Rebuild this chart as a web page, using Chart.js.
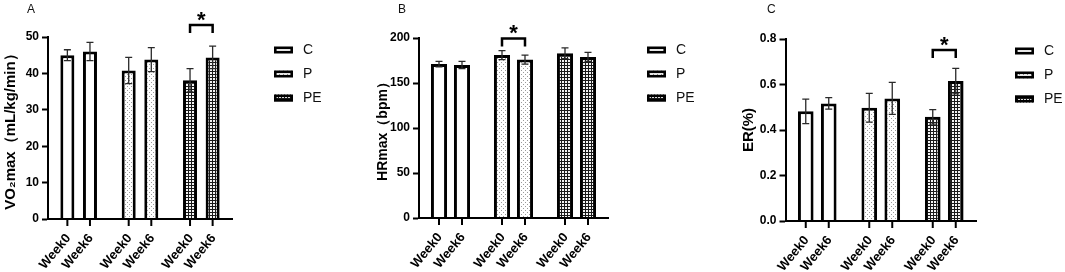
<!DOCTYPE html>
<html>
<head>
<meta charset="utf-8">
<script src="https://cdn.jsdelivr.net/npm/chart.js@4.4.1/dist/chart.umd.min.js"></script>
<style>
    html, body { margin: 0; padding: 0; background: #fff; }
    #wrap { position: relative; width: 1065px; height: 272px; overflow: hidden; }
    .panel { position: absolute; top: 0; height: 272px; }
    .tag { position: absolute; top: 3px; font: 12px "Liberation Sans", Arial, sans-serif; color: #111; line-height: 12px; }
</style>
</head>
<body>
<div id="wrap">
    <div class="panel" style="left:0;width:370px"><canvas id="chartA" width="370" height="272"></canvas></div>
    <div class="panel" style="left:370px;width:330px"><canvas id="chartB" width="330" height="272"></canvas></div>
    <div class="panel" style="left:700px;width:365px"><canvas id="chartC" width="365" height="272"></canvas></div>
    <div class="tag" style="left:27px">A</div>
    <div class="tag" style="left:398px">B</div>
    <div class="tag" style="left:767px">C</div>
</div>
<script>
// groups (legend) and time points (bar labels)
const groups = ["C", "P", "PE"];
const weeks = ["Week0", "Week6"];

// VO2max (mL/kg/min), mean and SD per group
const vo2Week0 = [45.0, 40.8, 38.1];
const vo2Week6 = [46.0, 43.8, 44.4];
const vo2Week0Sd = [1.5, 3.6, 3.2];
const vo2Week6Sd = [2.5, 3.3, 3.1];
const vo2Ticks = [0, 10, 20, 30, 40, 50];

// HRmax (bpm)
const hrWeek0 = [171, 181, 183];
const hrWeek6 = [170, 176, 179];
const hrWeek0Sd = [3, 5, 6];
const hrWeek6Sd = [4, 5, 5];
const hrTicks = [0, 50, 100, 150, 200];

// ER (%)
const erWeek0 = [0.482, 0.498, 0.458];
const erWeek6 = [0.517, 0.539, 0.615];
const erWeek0Sd = [0.054, 0.063, 0.032];
const erWeek6Sd = [0.025, 0.070, 0.056];
const erTicks = [0, 0.2, 0.4, 0.6, 0.8];

const FONT = "'Liberation Sans', Arial, sans-serif";

// hatch-like fills used by GraphPad style bars
function makePattern(draw, w, h) {
    const c = document.createElement("canvas");
    c.width = w;
    c.height = h;
    draw(c.getContext("2d"));
    return c.getContext("2d").createPattern(c, "repeat");
}

const dotFill = makePattern(g => {
    g.fillStyle = "#fff";
    g.fillRect(0, 0, 4, 4);
    g.fillStyle = "#9a9a9a";
    g.fillRect(1, 0, 1, 1);
    g.fillRect(3, 2, 1, 1);
}, 4, 4);

const checkFill = makePattern(g => {
    g.fillStyle = "#1a1a1a";
    g.fillRect(0, 0, 3, 3);
    g.fillStyle = "#f4f4f4";
    g.fillRect(0, 0, 2, 2);
}, 3, 3);

const groupFills = ["#ffffff", dotFill, checkFill];

/* -------------------------------
   Extras: error bars, bar labels, brackets, legend
---------------------------------*/
const panelExtras = {
    id: "panelExtras",
    afterDatasetsDraw(chart, args, opts) {
        const ctx = chart.ctx;
        const yScale = chart.scales.y;
        const area = chart.chartArea;
        ctx.save();

        // error bars (mean ± SD)
        chart.data.datasets.forEach((ds, di) => {
            chart.getDatasetMeta(di).data.forEach((bar, i) => {
                const m = ds.data[i];
                const sd = opts.errors[di][i];
                const yTop = yScale.getPixelForValue(m + sd);
                const yBot = yScale.getPixelForValue(m - sd);
                ctx.strokeStyle = "#2a2a2a";
                ctx.lineWidth = 1.3;
                ctx.beginPath();
                ctx.moveTo(bar.x, yTop);
                ctx.lineTo(bar.x, yBot);
                ctx.moveTo(bar.x - 3.5, yTop);
                ctx.lineTo(bar.x + 3.5, yTop);
                ctx.moveTo(bar.x - 3.5, yBot);
                ctx.lineTo(bar.x + 3.5, yBot);
                ctx.stroke();
            });
        });

        // tick marks and rotated week labels under every bar
        chart.data.datasets.forEach((ds, di) => {
            chart.getDatasetMeta(di).data.forEach(bar => {
                ctx.strokeStyle = "#000";
                ctx.lineWidth = 2;
                ctx.beginPath();
                ctx.moveTo(bar.x, area.bottom);
                ctx.lineTo(bar.x, area.bottom + 7);
                ctx.stroke();

                ctx.save();
                ctx.translate(bar.x + 1, area.bottom + 17);
                ctx.rotate(-50 * Math.PI / 180);
                ctx.font = "bold 13px " + FONT;
                ctx.fillStyle = "#000";
                ctx.textAlign = "right";
                ctx.textBaseline = "middle";
                ctx.fillText(ds.label, 0, 0);
                ctx.restore();
            });
        });

        // significance bracket
        (opts.sig || []).forEach(s => {
            const x0 = chart.getDatasetMeta(0).data[s.group].x;
            const x1 = chart.getDatasetMeta(1).data[s.group].x;
            const yl = yScale.getPixelForValue(s.y);
            ctx.strokeStyle = "#000";
            ctx.lineWidth = 2.5;
            ctx.lineJoin = "miter";
            ctx.beginPath();
            ctx.moveTo(x0, yl + 8);
            ctx.lineTo(x0, yl);
            ctx.lineTo(x1, yl);
            ctx.lineTo(x1, yl + 8);
            ctx.stroke();
            ctx.fillStyle = "#000";
            ctx.font = "bold 22px " + FONT;
            ctx.textAlign = "center";
            ctx.textBaseline = "alphabetic";
            ctx.fillText(s.mark, (x0 + x1) / 2, yl + 2);
        });

        // legend for the three groups
        const lx = area.right + opts.legendDx;
        groups.forEach((g, i) => {
            const cy = opts.legendTop + i * 24;
            ctx.fillStyle = groupFills[i];
            ctx.fillRect(lx, cy - 3.5, 19, 7);
            ctx.strokeStyle = "#000";
            ctx.lineWidth = 2.6;
            ctx.strokeRect(lx + 1.3, cy - 3.5 + 1.3, 19 - 2.6, 7 - 2.6);
            ctx.fillStyle = "#111";
            ctx.font = "14px " + FONT;
            ctx.textAlign = "left";
            ctx.textBaseline = "middle";
            ctx.fillText(g, lx + 29, cy + 0.5);
        });

        ctx.restore();
    }
};

function buildPanel(id, p) {
    const ctx = document.getElementById(id).getContext("2d");
    return new Chart(ctx, {
        type: "bar",
        data: {
            labels: groups,
            datasets: [
                {
                    label: weeks[0],
                    data: p.week0,
                    backgroundColor: groupFills,
                    borderColor: "#000",
                    borderWidth: 3,
                    categoryPercentage: p.catPct,
                    barPercentage: p.barPct
                },
                {
                    label: weeks[1],
                    data: p.week6,
                    backgroundColor: groupFills,
                    borderColor: "#000",
                    borderWidth: 3,
                    categoryPercentage: p.catPct,
                    barPercentage: p.barPct
                }
            ]
        },
        options: {
            responsive: false,
            animation: false,
            devicePixelRatio: 1,
            events: [],
            layout: {
                padding: { left: 0, right: p.padRight, top: p.padTop, bottom: 0 }
            },
            plugins: {
                legend: { display: false },
                tooltip: { enabled: false },
                panelExtras: {
                    errors: [p.sd0, p.sd6],
                    sig: p.sig,
                    legendDx: p.legendDx,
                    legendTop: p.legendTop
                }
            },
            scales: {
                x: {
                    ticks: { display: false },
                    grid: { display: false },
                    border: { display: true, color: "#000", width: 2, z: 1 },
                    afterFit: s => { s.height = p.xHeight; }
                },
                y: {
                    min: p.ticks[0],
                    max: p.ticks[p.ticks.length - 1],
                    afterBuildTicks: s => { s.ticks = p.ticks.map(v => ({ value: v })); },
                    afterFit: s => { s.width = p.yWidth; },
                    ticks: {
                        color: "#000",
                        padding: 3,
                        font: { family: FONT, size: 12, weight: "bold" },
                        callback: v => p.fmt(v)
                    },
                    grid: {
                        display: true,
                        drawOnChartArea: false,
                        drawTicks: true,
                        tickLength: 6,
                        tickWidth: 2,
                        tickColor: "#000"
                    },
                    border: { display: true, color: "#000", width: 2, z: 1 },
                    title: {
                        display: true,
                        text: p.title,
                        color: "#000",
                        font: { family: FONT, size: p.titleSize, weight: "bold" },
                        padding: { top: p.titlePad, bottom: 0 }
                    }
                }
            }
        },
        plugins: [panelExtras]
    });
}

buildPanel("chartA", {
    week0: vo2Week0, week6: vo2Week6, sd0: vo2Week0Sd, sd6: vo2Week6Sd,
    ticks: vo2Ticks, fmt: v => String(v),
    title: "VO\u2082max\uFF08mL/kg/min\uFF09", titleSize: 15, titlePad: 2,
    yWidth: 48, padRight: 138, padTop: 37, xHeight: 53,
    catPct: 0.737, barPct: 0.62,
    sig: [{ group: 2, y: 53.3, mark: "*" }],
    legendDx: 42, legendTop: 50
});

buildPanel("chartB", {
    week0: hrWeek0, week6: hrWeek6, sd0: hrWeek0Sd, sd6: hrWeek6Sd,
    ticks: hrTicks, fmt: v => String(v),
    title: "HRmax\uFF08bpm\uFF09", titleSize: 14, titlePad: 5,
    yWidth: 49, padRight: 92, padTop: 38, xHeight: 54,
    catPct: 0.73, barPct: 0.7,
    sig: [{ group: 1, y: 199.5, mark: "*" }],
    legendDx: 39, legendTop: 50
});

buildPanel("chartC", {
    week0: erWeek0, week6: erWeek6, sd0: erWeek0Sd, sd6: erWeek6Sd,
    ticks: erTicks, fmt: v => v.toFixed(1),
    title: "ER(%)", titleSize: 15, titlePad: 40,
    yWidth: 85.5, padRight: 89, padTop: 39, xHeight: 51,
    catPct: 0.724, barPct: 0.68,
    sig: [{ group: 2, y: 0.752, mark: "*" }],
    legendDx: 39, legendTop: 51
});
</script>
</body>
</html>
